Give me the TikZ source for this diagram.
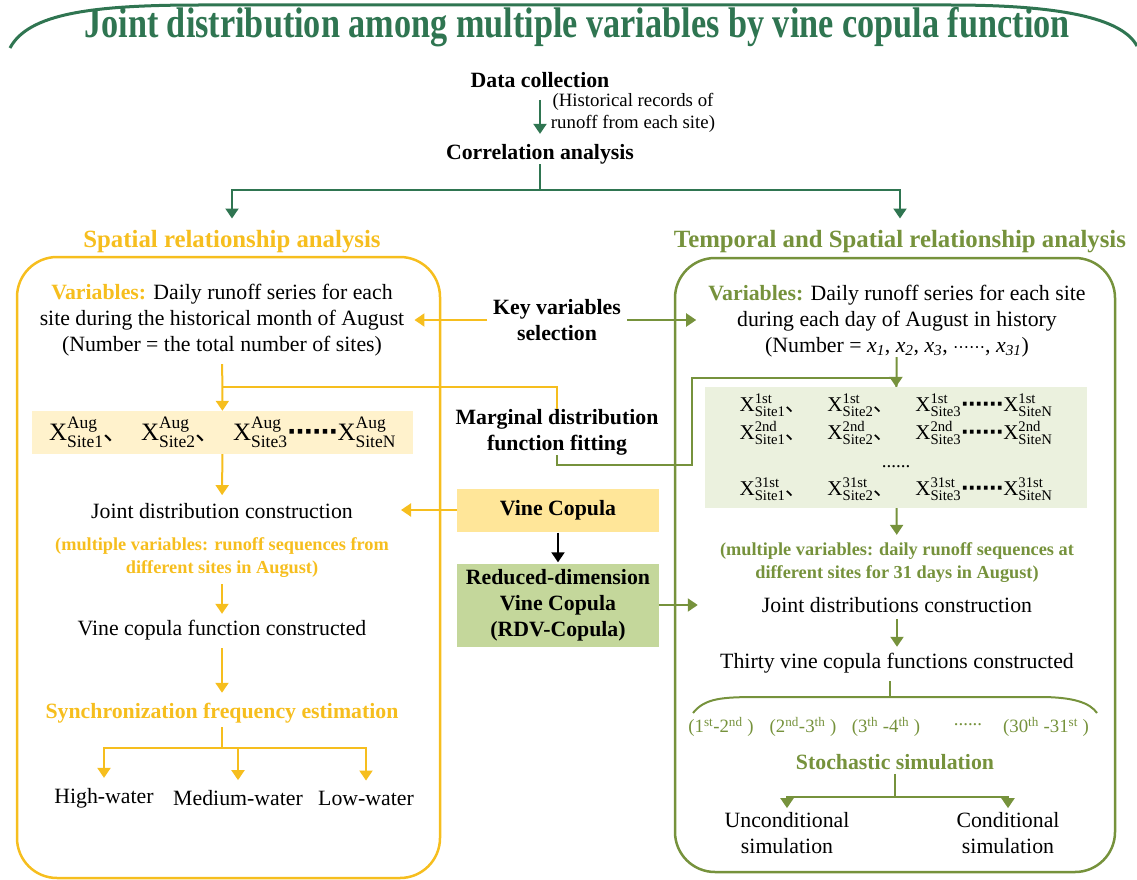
\documentclass[tikz,border=0pt]{standalone}
\usepackage{amsmath}
\usepackage{fontspec}
\setmainfont{Liberation Serif}
\newfontfamily\titlefont[FakeStretch=0.8]{Liberation Serif}
\newfontfamily\cjk{Noto Sans CJK SC}
\newfontfamily\dejavu{DejaVu Sans}
\usepackage{xcolor}
\usetikzlibrary{arrows.meta}

\definecolor{titlegreen}{RGB}{47,117,81}
\definecolor{spyellow}{RGB}{246,190,30}
\definecolor{olivegreen}{RGB}{118,146,60}
\definecolor{vinefill}{RGB}{255,230,153}
\definecolor{rdvfill}{RGB}{196,215,155}
\definecolor{lxfill}{RGB}{255,242,204}
\definecolor{rxfill}{RGB}{235,241,222}

\newcommand{\xv}[2]{$\text{X}^{\text{#1}}_{\text{#2}}$}
\newcommand{\sepmark}{{\cjk 、}}
\newcommand{\dotsmark}{{\dejavu\bfseries ⋯⋯}}
\newcommand{\xrow}[2]{\xv{#1}{Site1}\sepmark#2\xv{#1}{Site2}\sepmark#2\xv{#1}{Site3}\dotsmark\xv{#1}{SiteN}}

\begin{document}
\begin{tikzpicture}[x=1pt, y=-1pt,
  arr/.style={-{Triangle[length=10pt,width=13pt]}},
  bodytext/.style={font=\fontsize{21.8}{26}\selectfont, align=center, inner sep=0pt},
  boldtext/.style={bodytext, font=\fontsize{21.8}{26}\selectfont\bfseries},
  headtext/.style={inner sep=0pt, font=\fontsize{24.8}{28}\selectfont\bfseries},
  notetext/.style={bodytext, font=\fontsize{18.3}{23}\selectfont\bfseries},
  smalltext/.style={bodytext, font=\fontsize{18.8}{22}\selectfont},
  yline/.style={color=spyellow, line width=2pt},
  oline/.style={color=olivegreen, line width=2pt},
  dline/.style={color=titlegreen, line width=2pt},
  frame/.style={rounded corners=40pt, line width=2.5pt}]
\useasboundingbox (0,0) rectangle (1137,880);

% title
\draw[titlegreen, line width=3pt] (10,48) .. controls (28,14) and (90,5) .. (200,5) -- (950,5) .. controls (1060,5) and (1122,18) .. (1137,46);
\node[inner sep=0pt, text=titlegreen, font=\titlefont\fontsize{42.8}{44}\selectfont\bfseries] (title) at (577,27) {Joint distribution among multiple variables by vine copula function};

% top of the chart
\node[boldtext] (data) at (540,80) {Data collection};
\node[smalltext] (hist) at (633,113) {(Historical records of\\runoff from each site)};
\node[boldtext] (corr) at (540,154) {Correlation analysis};
\coordinate (split) at (540,190);
\node[headtext, text=spyellow] (spatial) at (232,242) {Spatial relationship analysis};
\node[headtext, text=olivegreen] (temporal) at (900,242) {Temporal and Spatial relationship analysis};
\draw[dline, arr, shorten <=12pt, shorten >=10pt] (data) -- (corr);
\draw[dline] (corr) -- (split);
\draw[dline, arr, shorten >=12pt] (split) -| (spatial);
\draw[dline, arr, shorten >=12pt] (split) -| (temporal);

% frames
\draw[frame, spyellow] (17,257) rectangle (440,878);
\draw[frame, olivegreen] (675,258) rectangle (1115,872);

% left side
\node[bodytext] (lvar) at (222,320) {\textcolor{spyellow}{\bfseries Variables:} Daily runoff series for each\\site during the historical month of August\\(Number = the total number of sites)};
\node[fill=lxfill, minimum width=381pt, minimum height=43pt, inner sep=0pt, font=\fontsize{25}{30}\selectfont] (lxbox) at (222.5,432.5) {\xrow{Aug}{\enspace}};
\coordinate (ljoin) at (222,387);
\node[bodytext] (ljoint) at (222,511) {Joint distribution construction};
\node[notetext, text=spyellow] (lmulti) at (222,558) {(multiple variables: runoff sequences from\\different sites in August)};
\node[bodytext] (lvine) at (222,630) {Vine copula function constructed};
\node[boldtext, text=spyellow] (lsync) at (222,713) {Synchronization frequency estimation};
\coordinate (lsplit) at (222,748);
\node[bodytext] (high) at (104,798) {High-water};
\node[bodytext] (med) at (238,798) {Medium-water};
\node[bodytext] (low) at (366,798) {Low-water};
\path[yline, arr]
  (lvar) edge[shorten <=8pt] (lxbox)
  (lxbox) edge[shorten >=8pt] (ljoint)
  (lmulti) edge[shorten <=6pt, shorten >=6pt] (lvine)
  (lvine) edge[shorten <=8pt, shorten >=10pt] (lsync);
\draw[yline] ([yshift=-4pt]lsync.south) -- (lsplit);
\draw[yline, arr, shorten >=10pt] (lsplit) -| (high);
\draw[yline, arr, shorten >=10pt] (lsplit) -| (med);
\draw[yline, arr, shorten >=10pt] (lsplit) -| (low);

% middle column
\node[boldtext] (keysel) at (557,320) {Key variables\\selection};
\node[boldtext] (marg) at (557,432) {Marginal distribution\\function fitting};
\node[fill=vinefill, minimum width=202pt, minimum height=43pt, inner sep=0pt, font=\fontsize{21.8}{26}\selectfont\bfseries] (vine) at (558,510) {Vine Copula};
\node[fill=rdvfill, minimum width=202pt, minimum height=83pt, inner sep=0pt, align=center, font=\fontsize{21.8}{26}\selectfont\bfseries] (rdv) at (558,605) {Reduced-dimension\\Vine Copula\\(RDV-Copula)};
\draw[yline, arr, shorten <=6pt, shorten >=10pt] (keysel) -- (keysel -| lvar.east);
\draw[yline] (marg.north) |- (ljoin);
\draw[yline, arr, shorten >=48pt] (vine) -- (vine -| ljoint.east);
\draw[line width=2pt, arr, shorten <=1pt, shorten >=1pt] (vine) -- (rdv);

% right side
\node[bodytext] (rvar) at (897,321) {\textcolor{olivegreen}{\bfseries Variables:} Daily runoff series for each site\\during each day of August in history\\(Number = \textit{x}\textsubscript{\textit{1}}, \textit{x}\textsubscript{\textit{2}}, \textit{x}\textsubscript{\textit{3}}, {\dejavu\fontsize{16}{20}\selectfont ⋯⋯}, \textit{x}\textsubscript{\textit{31}})};
\node[fill=rxfill, minimum width=382pt, minimum height=121pt, inner sep=0pt, align=center, font=\fontsize{21}{28}\selectfont] (rxbox) at (896,447.5) {\xrow{1st}{\quad}\\\xrow{2nd}{\quad}\\{\fontsize{19}{20}\selectfont ......}\\\xrow{31st}{\quad}};
\coordinate (rbend) at (692,378);
\node[notetext, text=olivegreen] (rmulti) at (897,563) {(multiple variables: daily runoff sequences at\\different sites for 31 days in August)};
\node[bodytext] (rjoint) at (897,605) {Joint distributions construction};
\node[bodytext] (rthirty) at (897,663) {Thirty vine copula functions constructed};
\draw[oline] (693,713) .. controls (705,698) and (722,697) .. (760,697) -- (1040,697) .. controls (1074,697) and (1090,703) .. (1097,713);
\coordinate (rtop) at (890,697);
\node[smalltext, text=olivegreen] (p1) at (721,727) {(1\textsuperscript{st}-2\textsuperscript{nd} )};
\node[smalltext, text=olivegreen] (p2) at (803,727) {(2\textsuperscript{nd}-3\textsuperscript{th} )};
\node[smalltext, text=olivegreen] (p3) at (886,727) {(3\textsuperscript{th} -4\textsuperscript{th} )};
\node[smalltext, text=olivegreen] (p4) at (968,725) {......};
\node[smalltext, text=olivegreen] (p5) at (1046,727) {(30\textsuperscript{th} -31\textsuperscript{st} )};
\node[boldtext, text=olivegreen] (stoch) at (895,762) {Stochastic simulation};
\coordinate (rsplit) at (895,797);
\node[bodytext] (uncond) at (787,833) {Unconditional\\simulation};
\node[bodytext] (cond) at (1008,833) {Conditional\\simulation};
\draw[oline, arr, shorten <=6pt, shorten >=12pt] (keysel) -- (keysel -| rvar.west);
\draw[oline, arr] (marg.south) -- ++(0,10) -| (rbend) -| (rxbox.north);
\draw[oline] (rvar) -- (rxbox);
\draw[oline, arr, shorten >=64pt] (rdv) -- (rdv -| rjoint.west);
\path[oline, arr]
  (rxbox) edge[shorten >=8pt] (rmulti)
  (rjoint) edge[shorten <=6pt, shorten >=6pt] (rthirty);
\draw[oline, shorten <=8pt] (rthirty.south -| rtop) -- (rtop);
\draw[oline] ([yshift=-4pt]stoch.south) -- (rsplit);
\draw[oline, arr, shorten >=4pt] (rsplit) -| (uncond);
\draw[oline, arr, shorten >=4pt] (rsplit) -| (cond);
\end{tikzpicture}
\end{document}
